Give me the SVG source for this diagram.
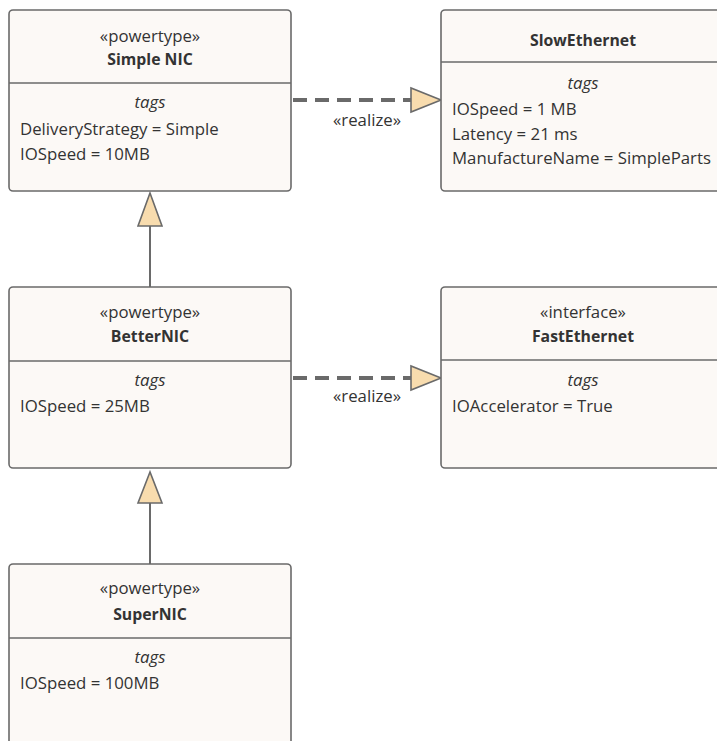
<svg xmlns="http://www.w3.org/2000/svg" width="717" height="741" viewBox="0 0 717 741">
<style>
.box{fill:#FCF9F6;stroke:#6A6A6A;stroke-width:1.6}
.div{stroke:#6A6A6A;stroke-width:1.4}
text{font-family:"Open Sans","Noto Sans","Liberation Sans",sans-serif;font-size:16.8px;fill:#333}
.c{text-anchor:middle}
.b{font-weight:bold;font-size:15.8px}
.i{font-style:italic}
.edge{stroke:#6A6A6A;stroke-width:2;fill:none}
.dash{stroke:#6A6A6A;stroke-width:4;fill:none;stroke-dasharray:14 8}
.head{fill:#F8DCAE;stroke:#6A6A6A;stroke-width:1.6}
</style>
<rect width="717" height="741" fill="#fff"/>
<g id="connectors">
<line class="edge" x1="150" y1="226" x2="150" y2="287"/>
<polygon class="head" points="150,193 138,226 162,226"/>
<line class="edge" x1="150" y1="503" x2="150" y2="564"/>
<polygon class="head" points="150,472 138,503 162,503"/>
<line class="dash" x1="293" y1="100" x2="411" y2="100"/>
<polygon class="head" points="441,100 411,88 411,112"/>
<text class="c" x="367" y="126">«realize»</text>
<line class="dash" x1="293" y1="378" x2="411" y2="378"/>
<polygon class="head" points="441,378 411,366 411,390"/>
<text class="c" x="367" y="402">«realize»</text>
</g>
<g id="SimpleNIC">
<rect class="box" x="9" y="10" width="282" height="181" rx="4"/>
<line class="div" x1="9" y1="83" x2="291" y2="83"/>
<text class="c" x="150" y="42">«powertype»</text>
<text class="c b" x="150" y="65">Simple NIC</text>
<text class="c i" x="150" y="108">tags</text>
<text x="20" y="135">DeliveryStrategy = Simple</text>
<text x="20" y="160">IOSpeed = 10MB</text>
</g>
<g id="SlowEthernet">
<rect class="box" x="441" y="10" width="282" height="181" rx="4"/>
<line class="div" x1="441" y1="62" x2="723" y2="62"/>
<text class="c b" x="583" y="46">SlowEthernet</text>
<text class="c i" x="583" y="89">tags</text>
<text x="452" y="115">IOSpeed = 1 MB</text>
<text x="452" y="140">Latency = 21 ms</text>
<text x="452" y="164">ManufactureName = SimpleParts</text>
</g>
<g id="BetterNIC">
<rect class="box" x="9" y="287" width="282" height="181" rx="4"/>
<line class="div" x1="9" y1="361" x2="291" y2="361"/>
<text class="c" x="150" y="318">«powertype»</text>
<text class="c b" x="150" y="342">BetterNIC</text>
<text class="c i" x="150" y="386">tags</text>
<text x="20" y="412">IOSpeed = 25MB</text>
</g>
<g id="FastEthernet">
<rect class="box" x="441" y="287" width="282" height="181" rx="4"/>
<line class="div" x1="441" y1="360" x2="723" y2="360"/>
<text class="c" x="583" y="318">«interface»</text>
<text class="c b" x="583" y="342">FastEthernet</text>
<text class="c i" x="583" y="386">tags</text>
<text x="452" y="412">IOAccelerator = True</text>
</g>
<g id="SuperNIC">
<rect class="box" x="9" y="564" width="282" height="200" rx="4"/>
<line class="div" x1="9" y1="638" x2="291" y2="638"/>
<text class="c" x="150" y="594">«powertype»</text>
<text class="c b" x="150" y="620">SuperNIC</text>
<text class="c i" x="150" y="663">tags</text>
<text x="20" y="689">IOSpeed = 100MB</text>
</g>
</svg>
